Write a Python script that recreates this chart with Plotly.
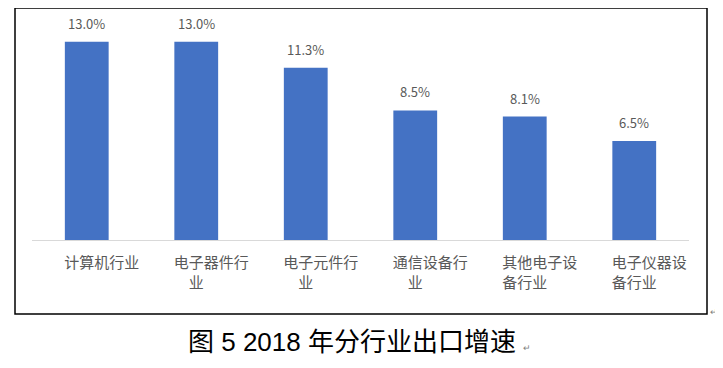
import plotly.graph_objects as go

categories = ["计算机行业", "电子器件行业", "电子元件行业", "通信设备行业", "其他电子设备行业", "电子仪器设备行业"]
tick_labels = ["计算机行业", "电子器件行<br>业\u3000\u3000", "电子元件行<br>业\u3000\u3000",
               "通信设备行<br>业\u3000\u3000", "其他电子设<br>备行业\u3000\u3000", "电子仪器设<br>备行业\u3000\u3000"]
values = [13.0, 13.0, 11.3, 8.5, 8.1, 6.5]
caption = "图 5 2018 年分行业出口增速"

FONT = "Noto Sans CJK SC"
OFF = 8  # page body margin
W, H = 723 - OFF, 368 - OFF
L, R, T, B = 32 - OFF, 723 - 689, 19 - OFF, 368 - 240
PW = W - L - R
PH = H - T - B


def px(x):
    return (x - OFF - L) / PW


def py(y):
    return (H - B - (y - OFF)) / PH


fig = go.Figure()
fig.add_trace(go.Bar(x=categories, y=values, marker=dict(color="#4472C4", line=dict(width=0)),
                     width=0.4, hoverinfo="skip"))

for c, v in zip(categories, values):
    fig.add_annotation(x=c, y=v, text=f"{v:.1f}%", showarrow=False, yanchor="bottom",
                       yshift=7, font=dict(family=FONT, size=13, color="#595959"))

# caption and paragraph marks
fig.add_annotation(xref="paper", yref="paper", x=px(351.5), y=py(342), text=caption,
                   showarrow=False, xanchor="center", yanchor="middle",
                   font=dict(family="Liberation Sans, Noto Sans CJK SC", size=26, color="#000000"))
fig.add_annotation(xref="paper", yref="paper", x=px(521), y=py(347), text="↵",
                   showarrow=False, xanchor="left", yanchor="middle",
                   font=dict(family=FONT, size=9, color="#808080"))
fig.add_annotation(xref="paper", yref="paper", x=px(707.5), y=py(311), text="↵",
                   showarrow=False, xanchor="left", yanchor="middle",
                   font=dict(family=FONT, size=9, color="#808080"))

# border
fig.add_shape(type="rect", xref="paper", yref="paper",
              x0=px(15), x1=px(707), y0=py(314), y1=py(8),
              line=dict(color="#000000", width=1.5), fillcolor="rgba(0,0,0,0)")

fig.update_xaxes(tickvals=categories, ticktext=tick_labels, showline=True, linecolor="#D9D9D9",
                 linewidth=1, ticks="", tickfont=dict(family=FONT, size=15, color="#595959"),
                 ticklabelshift=15, ticklabelstandoff=9, showgrid=False, automargin=False)
fig.update_yaxes(range=[0, 14.5], visible=False, showgrid=False, automargin=False)
fig.update_layout(width=W, height=H, margin=dict(l=L, r=R, t=T, b=B, autoexpand=False),
                  plot_bgcolor="white", paper_bgcolor="white", showlegend=False,
                  bargap=0.6, font=dict(family=FONT))
fig.write_html("out.html")
